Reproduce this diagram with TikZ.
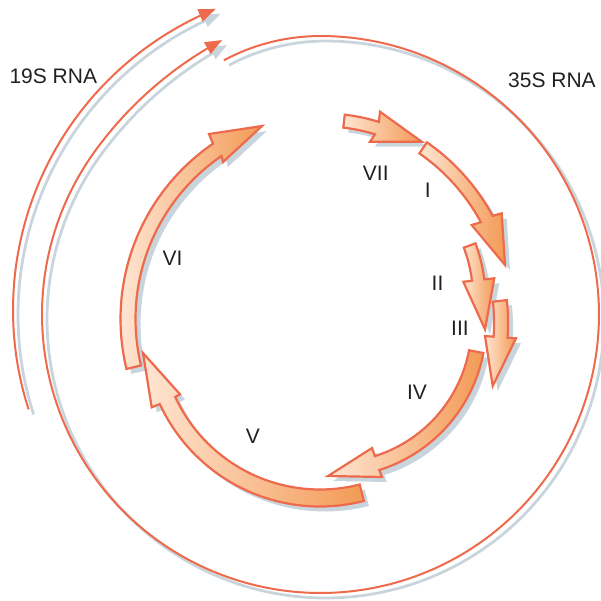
\documentclass[tikz,border=0pt]{standalone}
\usepackage{fontspec}
\setmainfont{Liberation Sans}
\usetikzlibrary{arrows.meta}
\definecolor{rnaline}{HTML}{EE6A4C}
\definecolor{shadowc}{HTML}{C9D5DD}
\definecolor{orflight}{HTML}{FEE5D2}
\definecolor{orfdark}{HTML}{F39A55}
\definecolor{txt}{HTML}{231F20}
% #1 cx, #2 cy, #3 R, #4 half width, #5 tail angle, #6 head-base angle, #7 outer barb, #8 tip, #9 inner barb
\newcommand{\orfShadow}[9]{\path[orfshadow] plot[domain=#5:#6,samples=40] ({#1+(#3+#4)*cos(\x)},{#2+(#3+#4)*sin(\x)}) -- #7 -- #8 -- #9 -- plot[domain=#6:#5,samples=40] ({#1+(#3-#4)*cos(\x)},{#2+(#3-#4)*sin(\x)}) -- cycle;}
\newcommand{\orfBody}[9]{\path[orfbody] plot[domain=#5:#6,samples=40] ({#1+(#3+#4)*cos(\x)},{#2+(#3+#4)*sin(\x)}) -- #7 -- #8 -- #9 -- plot[domain=#6:#5,samples=40] ({#1+(#3-#4)*cos(\x)},{#2+(#3-#4)*sin(\x)}) -- cycle;}
\def\arrVII{{324}{297}{177}{6.5}{-83.5}{-72.6}{(380,111.7)}{(421.7,141.7)}{(370,141.7)}}
\def\arrI{{305.6}{317}{206}{6.7}{-55.2}{-28.4}{(501.7,213.3)}{(505,265)}{(471.7,225)}}
\def\arrII{{324.4}{299.5}{155}{6.2}{-20.4}{-7.2}{(494.3,278.3)}{(485,329.3)}{(463.3,281.7)}}
\def\arrIII{{306.1}{322.8}{195}{7}{-6.45}{4.24}{(516,338.3)}{(492.7,386)}{(485,336)}}
\def\arrIV{{333.4}{324.4}{145.4}{7.3}{10.8}{72.5}{(382,477)}{(328,476)}{(372,448)}}
\def\arrV{{320}{330}{168}{8.5}{75.6}{155.2}{(151.7,407.3)}{(143,353)}{(180,394.3)}}
\def\arrVI{{333}{319}{205}{7.5}{166.4}{235.6}{(209,134)}{(262,126)}{(223,162)}}
\begin{document}
\begin{tikzpicture}[x=0.5pt,y=-0.5pt,
  declare function={r35(\t)=278.5-6.5*(max(0,(-90-\t)/20.8))^2+13.1*(max(0,(\t-216)/34.3))^2;},
  rna/.style={draw=rnaline,line width=1pt,-{Triangle[length=8.5pt,width=6.5pt]}},
  rnash/.style={draw=shadowc,line width=1.4pt,-{Triangle[length=8.5pt,width=6.5pt]}},
  orfshadow/.style={fill=shadowc,shift={(5,5)}},
  orfbody/.style={draw=rnaline,line width=1.1pt,left color=orflight,right color=orfdark},
  lbl/.style={inner sep=0pt,text=txt,font=\fontsize{10.5}{12}\selectfont}]
\useasboundingbox (0,0) rectangle (601,601);
\clip (0,0) rectangle (601,601);
% outer RNA lines: shadows
\begin{scope}[shift={(5,5)}]
\draw[rnash] plot[domain=162.2:247.9,samples=80] ({338+325*cos(\x)},{310+325*sin(\x)});
\draw[rnash] plot[domain=-110.8:250.3,samples=240] ({320.5+r35(\x)*cos(\x)},{314.5+r35(\x)*sin(\x)});
\end{scope}
\draw[rna] plot[domain=162.2:247.9,samples=80] ({338+325*cos(\x)},{310+325*sin(\x)});
\draw[rna] plot[domain=-110.8:250.3,samples=240] ({320.5+r35(\x)*cos(\x)},{314.5+r35(\x)*sin(\x)});
% ORF arrows: shadows first
\expandafter\orfShadow\arrVII
\expandafter\orfShadow\arrI
\expandafter\orfShadow\arrII
\expandafter\orfShadow\arrIII
\expandafter\orfShadow\arrIV
\expandafter\orfShadow\arrV
\expandafter\orfShadow\arrVI
\expandafter\orfBody\arrVII
\expandafter\orfBody\arrI
\expandafter\orfBody\arrII
\expandafter\orfBody\arrIII
\expandafter\orfBody\arrIV
\expandafter\orfBody\arrV
\expandafter\orfBody\arrVI
% labels
\node[lbl] (l19) at (53.3,76.7) {19S RNA};
\node[lbl] (l35) at (552,80) {35S RNA};
\node[lbl] (lVII) at (375.8,173.3) {VII};
\node[lbl] (lI) at (427.7,190) {I};
\node[lbl] (lII) at (437.5,283.3) {II};
\node[lbl] (lIII) at (460,328.3) {III};
\node[lbl] (lIV) at (417,392.7) {IV};
\node[lbl] (lV) at (253,436.7) {V};
\node[lbl] (lVI) at (172.5,258.3) {VI};
\end{tikzpicture}
\end{document}
